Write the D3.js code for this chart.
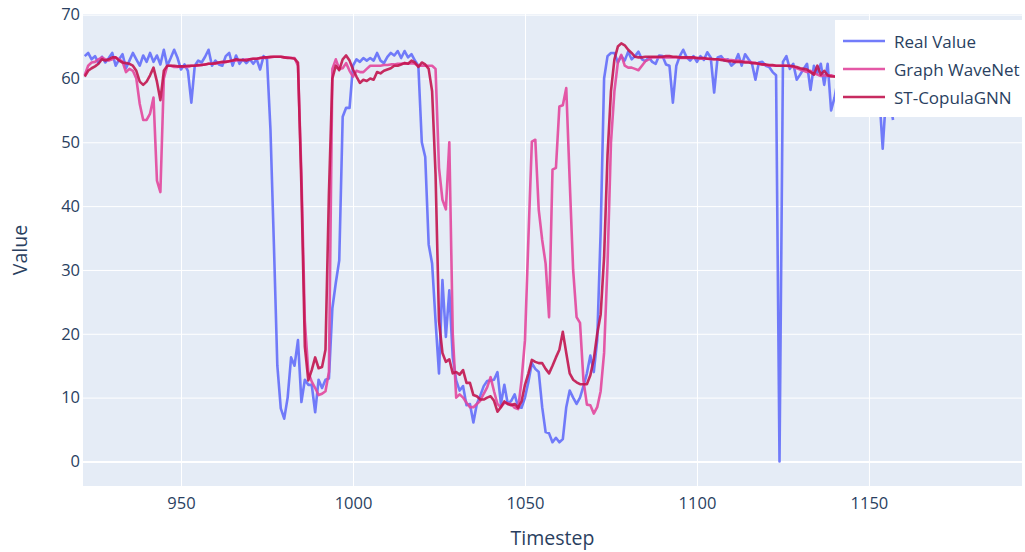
<!DOCTYPE html>
<html>
<head>
<meta charset="utf-8">
<script src="https://cdn.jsdelivr.net/npm/d3@7"></script>
<style>
  body { margin: 0; background: #fff; }
  text { font-family: "Open Sans", verdana, arial, sans-serif; fill: #2a3f5f; }
</style>
</head>
<body>
<div id="my_dataviz"></div>
<script>
// data, one value per timestep starting at 922
var startStep = 922
var seriesNames = ["Real Value", "Graph WaveNet", "ST-CopulaGNN"]
var seriesColors = ["#636efa", "#e2479d", "#c2154f"]
var xTicks = [950, 1000, 1050, 1100, 1150]
var yTicks = [0, 10, 20, 30, 40, 50, 60, 70]

var realValue = [
  63.5, 64, 63, 63.5, 62.4, 63.4, 62.5, 63.2, 64, 62,
  63, 63.8, 61.6, 62.8, 64, 63, 62, 63.6, 62.6, 64,
  62.6, 63.6, 62.2, 64.5, 62, 63.2, 64.5, 63.2, 61.4, 62.2,
  61.2, 56.2, 62, 62.8, 62.5, 63.4, 64.5, 62, 62.8, 62.2,
  62, 63.5, 64, 62, 63.6, 62.3, 63, 62.4, 63, 62.3,
  63, 61.4, 63.5, 63, 52, 34, 15, 8.3, 6.7, 10,
  16.3, 15, 19, 9.3, 12.8, 12, 12, 7.7, 12.8, 11.5,
  12.8, 13, 24, 28, 31.5, 54, 55.4, 55.4, 62, 63,
  62.6, 63.2, 62.8, 63.2, 62.8, 64, 62.8, 62.4, 63.4, 64,
  63.6, 64.3, 63.2, 64.3, 63.3, 63.8, 62.8, 62, 50, 47.7,
  34, 31, 22, 13.8, 28.4, 19.5, 26.8, 16.3, 12.7, 11.1,
  11.8, 8.8, 9, 6.1, 9, 10.3, 11.8, 12.6, 12.7, 12.8,
  14, 9, 12, 9, 9.5, 10.5, 8.5, 8.4, 10, 12.5,
  15.4, 14.5, 14, 8.5, 4.6, 4.4, 3, 3.7, 3, 3.5,
  8.5, 11.1, 10, 9, 10, 11.8, 13.8, 16.6, 14, 19,
  36, 60, 63.5, 64, 64, 62.5, 63.5, 62.8, 64.2, 63,
  63.5, 64.2, 63, 62.7, 63.3, 62.6, 62.3, 63.6, 63.5, 62.2,
  62, 56.2, 62, 63.5, 64.5, 63.3, 62.8, 63.5, 62.6, 63.5,
  62.9, 64.1, 63.3, 57.8, 63.3, 63.5, 62.8, 63, 62, 62.5,
  63.8, 62, 63.8, 63, 62.3, 59.8, 62.5, 62.6, 62, 61.8,
  61, 60.5, 0, 62.6, 63.5, 61.5, 62.3, 59.8, 60.6, 61.5,
  62.3, 58.2, 62, 60.8, 62.3, 59, 62.3, 55, 57, 60,
  60, 61.5, 59.5, 60.5, 61, 59.8, 60.2, 59, 60, 58.5,
  59, 57.5, 49, 57.5, 57, 53.5
]

var graphWaveNet = [
  60.5, 62, 62.5, 62.6, 63, 63.3, 63, 62.8, 63, 63.3,
  63, 62.6, 61, 61.5, 61.2, 60, 56, 53.5, 53.5, 54.5,
  57, 44, 42.2, 60, 62, 62, 61.8, 61.8, 61.9, 61.8,
  61.8, 62, 62, 62, 62.1, 62.2, 62.3, 62.3, 62.3, 62.5,
  62.5, 62.6, 62.7, 62.8, 62.8, 62.9, 62.9, 63, 63, 63.1,
  63.1, 63.2, 63.2, 63.3, 63.3, 63.4, 63.4, 63.4, 63.3, 63.3,
  63.2, 63.2, 62, 45, 22, 14, 12.5, 11.5, 10.4, 10.6,
  11, 14, 61.5, 63, 61.5, 61.6, 62.4, 61.2, 60.3, 61.2,
  61, 61, 61.5, 62, 62, 62, 62, 62.1, 62.1, 62.2,
  62.2, 62.3, 62.3, 62.4, 62.3, 62.4, 62.3, 62, 62, 62,
  62, 62, 61.5, 46, 41, 39.5, 50, 20, 10, 10.5,
  10, 9.2, 8.5, 8.5, 9, 9.5, 10.6, 11.6, 13.2, 11,
  9, 8.5, 9.2, 9.1, 9, 8.4, 8.2, 12.7, 19, 35,
  50.1, 50.4, 39.4, 34.7, 31, 22.6, 45.7, 46, 55.6, 55.8,
  58.5, 44, 30, 22.6, 21.7, 12.7, 8.9, 8.8, 7.5, 8.5,
  11, 17, 31, 50, 58, 62.5, 63.7, 62, 61.7, 61.7,
  61.5, 61.3, 62, 62.7, 63, 63.3, 63.3, 63.3, 63.3, 63.3,
  63.3, 63.3, 63.3, 63.2, 63.2, 63.2, 63.2, 63.2, 63.2, 63.1,
  63.1, 63.1, 63, 63, 63, 63, 63, 62.9, 62.9, 62.8,
  62.8, 62.7, 62.6, 62.6, 62.5, 62.4, 62.3, 62.2, 62.1, 62,
  62, 62, 62, 62, 62, 61.9, 61.8, 61.6, 61.4, 61.2,
  61, 61.2, 60.8, 60.6, 60.4, 60.5, 60.4, 60.5, 60.3, 60.3,
  60.2, 60.2, 60.1, 60.1, 60, 60, 60, 60, 60, 60,
  60, 60, 60, 60, 60, 60
]

var stCopulaGNN = [
  60.3, 61.2, 61.6, 61.9, 62.3, 63, 62.8, 63, 63.3, 63.3,
  62.8, 62.5, 62.4, 62.3, 62, 61.2, 59.5, 59, 59.5, 60.5,
  61.7, 59.5, 56.6, 61.2, 62, 62, 62, 61.9, 61.9, 61.9,
  62, 62, 62, 62.1, 62.1, 62.2, 62.3, 62.3, 62.4, 62.5,
  62.6, 62.6, 62.7, 62.8, 63, 62.9, 62.9, 62.8, 63, 63.1,
  63.1, 63.2, 63.3, 63.3, 63.4, 63.4, 63.4, 63.4, 63.3, 63.2,
  63.2, 63.1, 62.5, 43, 18, 12.7, 14.3, 16.3, 14.6, 14.8,
  17.5, 42, 60, 62, 61.3, 63, 63.6, 62.8, 61.4, 60.3,
  59.3, 59.8, 59.6, 60, 59.8, 61, 60.8, 61.2, 61.4, 61.6,
  62, 62, 62.2, 62.4, 62.3, 62.8, 62.5, 61.8, 62.5, 62.2,
  61.5, 58, 45, 22, 17, 15.6, 16, 13.8, 14, 13.6,
  14.3, 12.3, 12.3, 10.4, 10.2, 9.7, 9.7, 10, 10.2, 9.5,
  7.8, 8.5, 9.4, 9, 8.8, 9, 8.4, 9.4, 12, 13.8,
  15.9, 15.6, 15.4, 15.4, 14.5, 13.8, 15, 16.3, 17.5, 20.3,
  17, 13.8, 12.8, 12.4, 12.1, 12.1, 12.1, 13.5, 16, 20,
  23, 32, 48, 58, 63, 65, 65.5, 65.2, 64.5, 64,
  63.4, 63.3, 63.3, 63.4, 63.4, 63.4, 63.4, 63.4, 63.4, 63.5,
  63.5, 63.4, 63.4, 63.3, 63.3, 63.3, 63.3, 63.3, 63.2, 63.2,
  63.2, 63.1, 63.1, 63, 63, 62.9, 62.8, 62.7, 62.7, 62.6,
  62.6, 62.6, 62.5, 62.5, 62.4, 62.4, 62.3, 62.2, 62.2, 62.1,
  62.1, 62, 62, 62, 62, 62, 61.9, 61.8, 61.6, 61.5,
  61.4, 61, 60.6, 62, 60.6, 61.2, 60.5, 60.3, 60.3, 60.2,
  60.2, 60.1, 60.1, 60, 60, 60, 60, 60, 60, 60,
  60, 60, 60, 60, 60, 60
]

var allSeries = [realValue, graphWaveNet, stCopulaGNN]

// set the dimensions and margins of the graph
var margin = {top: 14, right: 3, bottom: 66, left: 83},
    width = 1025 - margin.left - margin.right,
    height = 552 - margin.top - margin.bottom;

var svg = d3.select("#my_dataviz")
  .append("svg")
    .attr("width", width + margin.left + margin.right)
    .attr("height", height + margin.top + margin.bottom)
  .append("g")
    .attr("transform", "translate(" + margin.left + "," + margin.top + ")");

var x = d3.scaleLinear().domain([921.5, 1194.5]).range([0, width])
var y = d3.scaleLinear().domain([-3.85, 70.1]).range([height, 0])

// plot background
svg.append("rect")
  .attr("width", width)
  .attr("height", height)
  .attr("fill", "#e5ecf6")

// grid
svg.append("g")
  .call(d3.axisBottom(x).tickValues(xTicks).tickSize(height).tickFormat(""))
  .call(g => g.select(".domain").remove())
  .selectAll("line").attr("stroke", "#fff").attr("stroke-width", 1)

svg.append("g")
  .call(d3.axisLeft(y).tickValues(yTicks).tickSize(-width).tickFormat(""))
  .call(g => g.select(".domain").remove())
  .selectAll("line")
    .attr("stroke", "#fff")
    .attr("stroke-width", d => d == 0 ? 2 : 1)

// tick labels
var xAxis = svg.append("g")
  .attr("transform", "translate(0," + height + ")")
  .call(d3.axisBottom(x).tickValues(xTicks).tickSize(0).tickPadding(11).tickFormat(d3.format("d")))
xAxis.select(".domain").remove()
xAxis.selectAll("text").attr("font-size", "16.5px").attr("fill", "#2a3f5f").attr("font-family", null)

var yAxis = svg.append("g")
  .call(d3.axisLeft(y).tickValues(yTicks).tickSize(0).tickPadding(3))
yAxis.select(".domain").remove()
yAxis.selectAll("text").attr("font-size", "16.5px").attr("fill", "#2a3f5f").attr("font-family", null)

// lines
var line = d3.line()
  .x((d, i) => x(startStep + i))
  .y(d => y(d))

var plot = svg.append("g")
plot.selectAll("path.series")
  .data(allSeries)
  .join("path")
    .attr("class", "series")
    .attr("d", line)
    .attr("fill", "none")
    .attr("stroke", (d, i) => seriesColors[i])
    .attr("stroke-width", 2.6)
    .attr("stroke-linejoin", "round")
    .attr("opacity", 0.9)

// axis titles
svg.append("text")
  .attr("x", width / 2)
  .attr("y", height + 51)
  .attr("text-anchor", "middle")
  .attr("dominant-baseline", "central")
  .attr("font-size", "19.5px")
  .text("Timestep")

svg.append("text")
  .attr("transform", "translate(" + (19 - margin.left) + "," + (height / 2) + ") rotate(-90)")
  .attr("text-anchor", "middle")
  .attr("dominant-baseline", "central")
  .attr("font-size", "19.5px")
  .text("Value")

// legend
var legend = svg.append("g")
  .attr("transform", "translate(" + (835 - margin.left) + "," + (20 - margin.top) + ")")

legend.append("rect")
  .attr("width", 190)
  .attr("height", 97)
  .attr("fill", "#fff")

var item = legend.selectAll("g.item")
  .data(seriesNames)
  .join("g")
    .attr("class", "item")
    .attr("transform", (d, i) => "translate(0," + (21 + i * 28) + ")")

item.append("line")
  .attr("x1", 8)
  .attr("x2", 50)
  .attr("stroke", (d, i) => seriesColors[i])
  .attr("stroke-width", 2.6)
  .attr("opacity", 0.9)

item.append("text")
  .attr("x", 59)
  .attr("dominant-baseline", "central")
  .attr("font-size", "17px")
  .text(d => d)
</script>
</body>
</html>
